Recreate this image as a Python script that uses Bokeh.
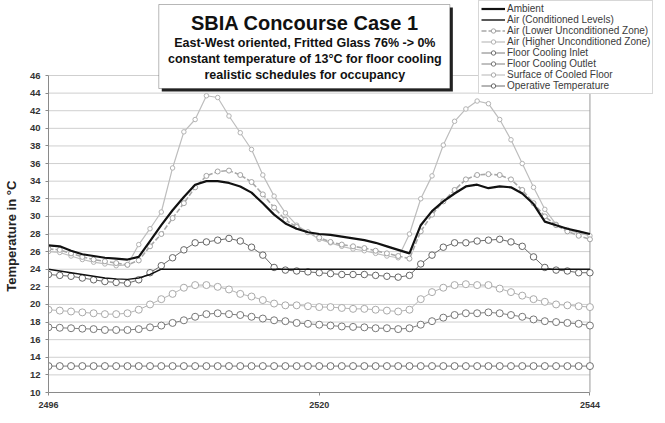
from bokeh.plotting import figure
from bokeh.models import Range1d, FixedTicker, Legend, LegendItem, Label, BoxAnnotation
from bokeh.embed import file_html
from bokeh.resources import INLINE

# ---------------- data ----------------
hours = list(range(2496, 2545))

ambient = [26.7, 26.6, 26.1, 25.7, 25.5, 25.3, 25.2, 25.1, 25.4, 27.2,
           29.0, 30.7, 32.2, 33.6, 34.0, 34.0, 33.8, 33.4, 32.7, 31.5,
           30.2, 29.2, 28.6, 28.2, 28.0, 27.9, 27.7, 27.5, 27.3, 27.0,
           26.6, 26.2, 25.8, 29.0, 30.6, 31.7, 32.6, 33.4, 33.6, 33.2,
           33.4, 33.3, 32.6, 31.4, 29.4, 29.0, 28.6, 28.3, 28.0]

air_conditioned = [24.0, 23.8, 23.6, 23.4, 23.2, 23.0, 22.9, 22.85, 23.0, 23.4,
                   24.0, 24.0, 24.0, 24.0, 24.0, 24.0, 24.0, 24.0, 24.0, 24.0,
                   24.0, 24.0, 24.0, 24.0, 24.0, 24.0, 24.0, 24.0, 24.0, 24.0,
                   24.0, 24.0, 24.0, 24.0, 24.0, 24.0, 24.0, 24.0, 24.0, 24.0,
                   24.0, 24.0, 24.0, 24.0, 24.0, 24.0, 24.0, 24.0, 24.0]

air_lower = [26.3, 26.2, 25.8, 25.4, 25.1, 24.9, 24.7, 24.5, 25.0, 26.6,
             28.0, 29.8, 31.5, 33.3, 34.6, 35.1, 35.2, 34.7, 33.9, 32.5,
             31.0, 29.6, 28.8, 28.2, 27.6, 27.1, 26.8, 26.6, 26.4, 26.1,
             25.8, 25.5, 25.2, 28.3, 30.2, 31.7, 33.0, 34.2, 34.7, 34.8,
             34.7, 34.2, 33.0, 31.5, 30.0, 29.0, 28.3, 27.8, 27.4]

air_higher = [26.0, 25.9, 25.5, 25.1, 24.8, 24.6, 24.4, 24.5, 26.8, 28.6,
              30.5, 35.5, 39.6, 41.0, 43.7, 43.5, 41.4, 39.5, 37.6, 34.7,
              32.3, 30.4, 29.0, 28.2, 27.4, 27.0, 26.6, 26.3, 26.1, 25.8,
              25.5, 25.3, 28.0, 32.0, 34.6, 38.1, 40.8, 42.2, 43.1, 42.8,
              41.0, 38.7, 36.0, 33.3, 30.8, 29.1, 28.5, 28.1, 27.8]

floor_inlet = [13.0] * 49

floor_outlet = [17.4, 17.35, 17.3, 17.25, 17.2, 17.1, 17.1, 17.1, 17.2, 17.4,
                17.6, 17.9, 18.2, 18.6, 18.9, 19.0, 18.9, 18.8, 18.6, 18.4,
                18.2, 18.1, 17.9, 17.8, 17.7, 17.6, 17.5, 17.45, 17.4, 17.3,
                17.3, 17.2, 17.3, 17.7, 18.1, 18.5, 18.8, 19.0, 19.0, 19.1,
                19.0, 18.8, 18.6, 18.3, 18.1, 18.0, 17.9, 17.8, 17.6]

floor_surface = [19.4, 19.3, 19.2, 19.1, 19.0, 18.9, 18.9, 19.0, 19.4, 20.0,
                 20.6, 21.2, 21.9, 22.2, 22.2, 22.0, 21.7, 21.2, 20.9, 20.5,
                 20.1, 19.9, 19.9, 19.8, 19.7, 19.7, 19.6, 19.5, 19.5, 19.4,
                 19.3, 19.2, 19.4, 20.6, 21.4, 21.9, 22.2, 22.3, 22.2, 22.2,
                 21.8, 21.4, 21.0, 20.6, 20.3, 20.0, 19.9, 19.8, 19.7]

operative = [23.4, 23.3, 23.2, 23.0, 22.8, 22.6, 22.5, 22.4, 22.8, 23.6,
             24.4, 25.3, 26.2, 27.0, 27.1, 27.3, 27.5, 27.2, 26.5, 25.6,
             24.2, 23.9, 23.8, 23.7, 23.6, 23.5, 23.4, 23.4, 23.4, 23.3,
             23.2, 23.1, 23.3, 24.6, 25.6, 26.5, 27.0, 27.0, 27.2, 27.3,
             27.4, 27.1, 26.6, 25.4, 24.2, 23.9, 23.8, 23.6, 23.6]

x_ticks = [2496, 2520, 2544]
y_ticks = list(range(10, 47, 2))

y_title = "Temperature in \u00b0C"
title_lines = ["SBIA Concourse Case 1",
               "East-West oriented, Fritted Glass 76% -> 0%",
               "constant temperature of 13\u00b0C for floor cooling",
               "realistic schedules for occupancy"]

# ---------------- layout helpers (reference page pixel -> data) ----------------
X0, X1, T0, T1 = x_ticks[0], x_ticks[-1], y_ticks[0], y_ticks[-1]
PL, PR, PT, PB = 52, 597, 83, 400   # plot area in page pixels


def dx(px):
    return X0 + (px - PL) * (X1 - X0) / (PR - PL)


def dy(py):
    return T1 - (py - PT) * (T1 - T0) / (PB - PT)


FONT = "Liberation Sans"
W, H = 657, 415

# frame spans to the right and top edges so the title box and legend are not clipped
p = figure(width=W, height=H,
           x_range=Range1d(X0, dx(8 + W)), y_range=Range1d(T0, dy(8)),
           output_backend="svg", toolbar_location=None,
           min_border_left=PL - 8, min_border_right=0,
           min_border_top=0, min_border_bottom=H - (PB - 8))

p.background_fill_color = "white"
p.border_fill_color = "white"
p.outline_line_color = None
p.xgrid.grid_line_color = None
p.ygrid.grid_line_color = None

p.xaxis.ticker = FixedTicker(ticks=x_ticks)
p.yaxis.ticker = FixedTicker(ticks=y_ticks)
p.xaxis.bounds = (X0, X1)
p.yaxis.bounds = (T0, T1)
for ax in (p.xaxis, p.yaxis):
    ax.axis_line_color = "#8a8a8a"
    ax.major_tick_line_color = "#8a8a8a"
    ax.minor_tick_line_color = None
    ax.major_tick_in = 0
    ax.major_tick_out = 3
    ax.major_label_text_font = FONT
    ax.major_label_text_color = "#333333"
    ax.major_label_text_font_style = "bold"
p.xaxis.major_label_text_font_size = "9px"
p.xaxis.major_label_standoff = 6
p.xaxis.major_tick_out = 3
p.yaxis.major_label_text_font_size = "9.5px"
p.yaxis.major_label_standoff = 5
# axis title: the axis centres it on the whole (extended) frame, so pad its end
# with no-break spaces to centre the visible words on the 10..46 span
p.yaxis.axis_label = y_title + "\u00a0" * 22
p.yaxis.axis_label_text_font = FONT
p.yaxis.axis_label_text_font_size = "13px"
p.yaxis.axis_label_text_font_style = "bold"
p.yaxis.axis_label_text_color = "#222222"
p.yaxis.axis_label_standoff = 8

# horizontal gridlines and right border of the plot area (limited to the axis bounds)
p.segment(x0=[X0] * len(y_ticks), y0=y_ticks, x1=[X1] * len(y_ticks), y1=y_ticks,
          line_color="#cfcfcf", line_width=1)
p.segment(x0=[X1], y0=[T0], x1=[X1], y1=[T1], line_color="#9a9a9a", line_width=1)

# ---------------- series ----------------
r_inlet_l = p.line(hours, floor_inlet, line_color="#7a7a7a", line_width=1)
r_inlet_m = p.scatter(hours, floor_inlet, marker="circle", size=7,
                      line_color="#6f6f6f", fill_color="white", line_width=1)

r_out_l = p.line(hours, floor_outlet, line_color="#808080", line_width=1)
r_out_m = p.scatter(hours, floor_outlet, marker="circle", size=7,
                    line_color="#777777", fill_color="white", line_width=1)

r_surf_l = p.line(hours, floor_surface, line_color="#b5b5b5", line_width=1)
r_surf_m = p.scatter(hours, floor_surface, marker="circle", size=7,
                     line_color="#aaaaaa", fill_color="white", line_width=1)

r_high_l = p.line(hours, air_higher, line_color="#bdbdbd", line_width=1.2)
r_high_m = p.scatter(hours, air_higher, marker="circle", size=4.5,
                     line_color="#b3b3b3", fill_color="white", line_width=1)

r_low_l = p.line(hours, air_lower, line_color="#a8a8a8", line_width=1.6,
                 line_dash="5 2")
r_low_m = p.scatter(hours, air_lower, marker="circle", size=5,
                    line_color="#a3a3a3", fill_color="white", line_width=1)

r_op_l = p.line(hours, operative, line_color="#6a6a6a", line_width=1)
r_op_m = p.scatter(hours, operative, marker="circle", size=6.5,
                   line_color="#666666", fill_color="white", line_width=1)

r_cond = p.line(hours, air_conditioned, line_color="#111111", line_width=1.4)
r_amb = p.line(hours, ambient, line_color="#111111", line_width=2.2)

legend = Legend(items=[
    LegendItem(label="Ambient", renderers=[r_amb]),
    LegendItem(label="Air (Conditioned Levels)", renderers=[r_cond]),
    LegendItem(label="Air (Lower Unconditioned Zone)", renderers=[r_low_l, r_low_m]),
    LegendItem(label="Air (Higher Unconditioned Zone)", renderers=[r_high_l, r_high_m]),
    LegendItem(label="Floor Cooling Inlet", renderers=[r_inlet_l, r_inlet_m]),
    LegendItem(label="Floor Cooling Outlet", renderers=[r_out_l, r_out_m]),
    LegendItem(label="Surface of Cooled Floor", renderers=[r_surf_l, r_surf_m]),
    LegendItem(label="Operative Temperature", renderers=[r_op_l, r_op_m]),
])
legend.location = (482 - PL, PB - 102)
legend.label_text_font = FONT
legend.label_text_font_size = "10px"
legend.label_text_color = "#3a3a3a"
legend.label_height = 11
legend.glyph_height = 11
legend.glyph_width = 24
legend.label_standoff = 2
legend.spacing = 0
legend.padding = 2
legend.margin = 0
legend.border_line_color = "#b0b0b0"
legend.background_fill_color = "white"
legend.background_fill_alpha = 1
p.add_layout(legend)

# ---------------- title box ----------------
shadow = BoxAnnotation(left=dx(166), right=dx(459), top=dy(15), bottom=dy(99),
                       fill_color="#222222", fill_alpha=1, line_color=None)
box = BoxAnnotation(left=dx(163), right=dx(456), top=dy(12), bottom=dy(96),
                    fill_color="white", fill_alpha=1, line_color="#111111",
                    line_width=1)
p.add_layout(shadow)
p.add_layout(box)

title_y = [30, 50, 66, 82]
title_size = ["20px", "12.5px", "12.5px", "12.5px"]
for txt, py, fs in zip(title_lines, title_y, title_size):
    p.add_layout(Label(x=dx(310), y=dy(py), text=txt, text_align="center",
                       text_baseline="middle", text_font=FONT,
                       text_font_size=fs, text_font_style="bold",
                       text_color="#111111"))

open("out.html", "w").write(file_html(p, INLINE))
